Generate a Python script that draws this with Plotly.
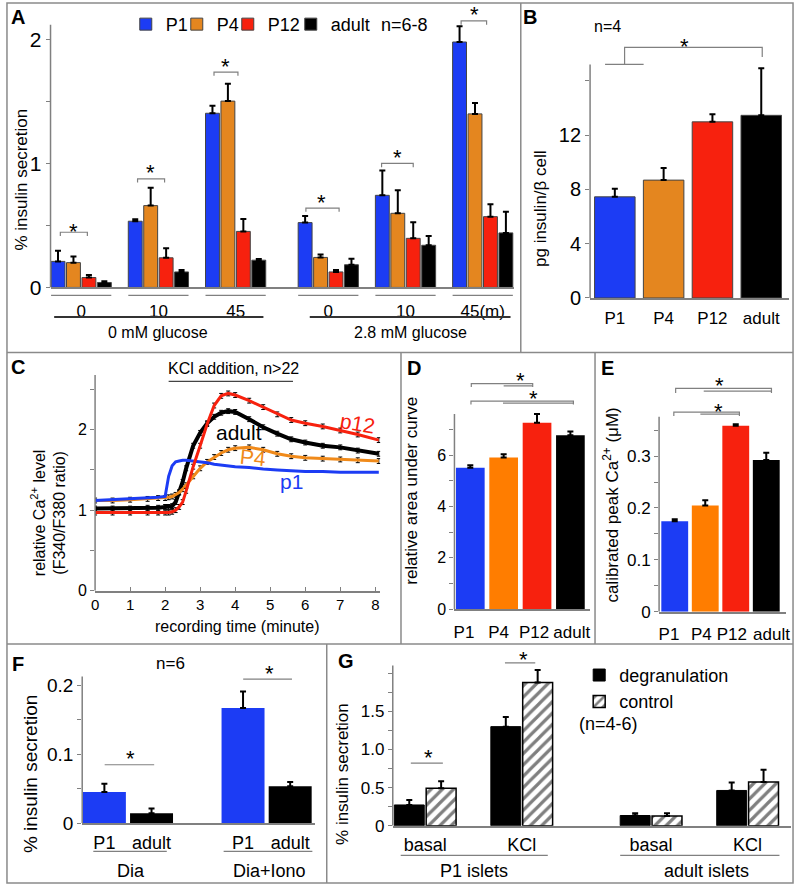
import plotly.graph_objects as go

W, H = 800, 896
FONT = "Liberation Sans, Arial, Helvetica, sans-serif"
AXC = "#808080"
BLUE = "#1c3cf4"
ORANGE_A = "#e4861f"
ORANGE_D = "#ff7d00"
RED = "#f7210e"
BLACK = "#000000"

# ---------------- data ----------------
stages = ["P1", "P4", "P12", "adult"]

# Panel A: % insulin secretion (mean, SEM)
a_conditions = ["0", "10", "45", "0", "10", "45(m)"]
a_glucose = ["0 mM glucose", "2.8 mM glucose"]
a_P1 = [0.21, 0.534, 1.405, 0.523, 0.743, 1.98]
a_P1_err = [0.085, 0.015, 0.06, 0.053, 0.20, 0.126]
a_P4 = [0.20, 0.66, 1.503, 0.242, 0.598, 1.40]
a_P4_err = [0.05, 0.145, 0.14, 0.023, 0.186, 0.088]
a_P12 = [0.08, 0.239, 0.452, 0.125, 0.396, 0.571]
a_P12_err = [0.02, 0.077, 0.10, 0.016, 0.13, 0.10]
a_adult = [0.04, 0.125, 0.22, 0.183, 0.34, 0.44]
a_adult_err = [0.01, 0.016, 0.01, 0.048, 0.074, 0.17]

# Panel B: pg insulin / beta cell
b_values = [7.45, 8.68, 12.97, 13.45]
b_err = [0.6, 0.9, 0.55, 3.47]

# Panel C: relative Ca2+ level over recording time (minute)
c_time = [0, 0.5, 1.0, 1.5, 1.8, 2.0, 2.1, 2.2, 2.3, 2.4, 2.5, 2.6, 2.8, 3.0,
          3.2, 3.4, 3.6, 3.8, 4.0, 4.4, 4.8, 5.2, 5.6, 6.0, 6.5, 7.0, 7.5, 8.1]
c_p1 = [1.12, 1.13, 1.14, 1.15, 1.16, 1.17, 1.42, 1.55, 1.60, 1.61, 1.62, 1.62, 1.61, 1.60,
        1.59, 1.57, 1.56, 1.55, 1.54, 1.53, 1.51, 1.50, 1.49, 1.48, 1.48, 1.47, 1.47, 1.47]
c_p4 = [1.12, 1.12, 1.13, 1.14, 1.15, 1.15, 1.16, 1.17, 1.19, 1.22, 1.26, 1.31, 1.42, 1.52,
        1.60, 1.66, 1.71, 1.75, 1.77, 1.78, 1.75, 1.70, 1.67, 1.65, 1.64, 1.63, 1.62, 1.61]
c_p12 = [0.97, 0.97, 0.97, 0.97, 0.97, 0.97, 0.97, 0.98, 1.00, 1.04, 1.10, 1.24, 1.54, 1.80,
         2.07, 2.30, 2.42, 2.45, 2.43, 2.36, 2.28, 2.19, 2.12, 2.08, 2.04, 1.99, 1.94, 1.87]
c_adult = [1.02, 1.02, 1.02, 1.03, 1.03, 1.04, 1.04, 1.05, 1.10, 1.22, 1.35, 1.52, 1.80, 1.96,
           2.08, 2.16, 2.21, 2.23, 2.22, 2.13, 2.03, 1.95, 1.88, 1.84, 1.80, 1.78, 1.74, 1.70]
c_sem = 0.03

# Panel D: relative area under curve
d_values = [5.51, 5.90, 7.26, 6.77]
d_err = [0.09, 0.13, 0.34, 0.15]

# Panel E: calibrated peak Ca2+ (uM)
e_values = [0.1745, 0.205, 0.3587, 0.2926]
e_err = [0.004, 0.010, 0.003, 0.014]

# Panel F: % insulin secretion
f_groups = ["Dia", "Dia+Iono"]
f_labels = ["P1", "adult"]
f_P1 = [0.0453, 0.167]
f_P1_err = [0.012, 0.024]
f_adult = [0.0143, 0.0535]
f_adult_err = [0.007, 0.006]

# Panel G: % insulin secretion
g_conditions = ["basal", "KCl", "basal", "KCl"]
g_islets = ["P1 islets", "adult islets"]
g_degran = [0.272, 1.298, 0.134, 0.462]
g_degran_err = [0.065, 0.125, 0.030, 0.103]
g_control = [0.49, 1.876, 0.129, 0.573]
g_control_err = [0.094, 0.164, 0.035, 0.16]

# ---------------- helpers ----------------
fig = go.Figure()
shapes = []
annos = []


def fx(px):
    return px / W


def fy(px):
    return 1 - px / H


def names(i):
    s = "" if i == 1 else str(i)
    return "x" + s, "y" + s, "xaxis" + s, "yaxis" + s


def errs(arr):
    return dict(type="data", symmetric=False, array=arr, arrayminus=[0] * len(arr),
                color="black", thickness=2, width=3)


def text(x, y, s, size=16, xref="paper", yref="paper", color="black", bold=False,
         angle=0, xanchor="center", yanchor="middle"):
    if bold:
        s = "<b>" + s + "</b>"
    annos.append(dict(x=x, y=y, xref=xref, yref=yref, text=s, showarrow=False,
                      font=dict(size=size, color=color, family=FONT), textangle=angle,
                      xanchor=xanchor, yanchor=yanchor))


def hline_paper(xa, x0, x1, ypx, color=AXC, width=1.2):
    shapes.append(dict(type="line", xref=xa, yref="paper", x0=x0, x1=x1, y0=fy(ypx), y1=fy(ypx),
                       line=dict(color=color, width=width)))


def bracket(xa, ya, x0, x1, y, drop=None):
    if drop is None:
        path = f"M{x0},{y} L{x1},{y}"
    else:
        path = f"M{x0},{drop} L{x0},{y} L{x1},{y} L{x1},{drop}"
    shapes.append(dict(type="path", xref=xa, yref=ya, path=path,
                       line=dict(color=AXC, width=1.2)))


def star(xa, ya, x, y):
    text(x, y, "*", size=22, xref=xa, yref=ya)


layout = dict()


def setup(i, xpx, zero_px, ppu, xr, yr, ymajor, ytext, yminor, ytick_size,
          axis_top, xtick_vals=None, xtick_text=None, xtick_size=16, xstandoff=0,
          xticks=""):
    xn, yn, xk, yk = names(i)
    top_px = zero_px - yr[1] * ppu
    layout[xk] = dict(domain=[fx(xpx[0]), fx(xpx[1])], range=list(xr), anchor=yn,
                      showgrid=False, zeroline=False, showline=True, linecolor=AXC,
                      linewidth=1.5, ticks=xticks, ticklen=4 if xticks else 0,
                      tickcolor=AXC, tickangle=0, ticklabeloverflow="allow",
                      tickfont=dict(size=xtick_size, family=FONT, color="black"),
                      ticklabelstandoff=xstandoff, fixedrange=True)
    if xtick_vals is not None:
        layout[xk].update(tickmode="array", tickvals=xtick_vals, ticktext=xtick_text)
    layout[yk] = dict(domain=[fy(zero_px), fy(top_px)], range=list(yr), anchor=xn,
                      showgrid=False, zeroline=False, showline=False,
                      ticks="outside", ticklen=4, tickcolor=AXC, tickwidth=1,
                      tickmode="array", tickvals=ymajor, ticktext=ytext,
                      tickfont=dict(size=ytick_size, family=FONT, color="black"),
                      fixedrange=True)
    if yminor:
        layout[yk]["minor"] = dict(tickmode="array", tickvals=yminor, ticks="outside",
                                   ticklen=4, tickcolor=AXC, tickwidth=1, showgrid=False)
    shapes.append(dict(type="line", xref=xn + " domain", yref=yn, x0=0, x1=0, y0=0,
                       y1=axis_top, line=dict(color=AXC, width=1.5)))
    return xn, yn


# ---------------- Panel A ----------------
a_pos = [i + (0.2 if i >= 3 else 0.0) for i in range(len(a_conditions))]
xa, ya = setup(1, (47, 515), 291, 125.5, (-0.397, 5.603), (0, 2.3),
               [0, 1, 2], ["0", "1", "2"], [0.5, 1.5], 21, 2.12,
               xtick_vals=a_pos, xtick_text=a_conditions, xtick_size=17, xstandoff=7)
a_series = [(a_P1, a_P1_err, BLUE), (a_P4, a_P4_err, ORANGE_A),
            (a_P12, a_P12_err, RED), (a_adult, a_adult_err, BLACK)]
a_legend_widths = [6, 6, 18, 42]
for k, (vals, er, col) in enumerate(a_series):
    fig.add_trace(go.Bar(x=a_pos, y=vals, name=stages[k], xaxis=xa, yaxis=ya,
                         offset=-0.39 + 0.2 * k, width=0.18,
                         marker=dict(color=col, line=dict(color="#444444", width=1)),
                         error_y=errs(er), legend="legend", showlegend=True,
                         legendwidth=a_legend_widths[k]))
for p in a_pos:
    hline_paper(xa, p - 0.39, p + 0.39, 299)
shapes.append(dict(type="line", xref=xa, yref="paper", x0=-0.35, x1=2.36, y0=fy(321), y1=fy(321),
                   line=dict(color="#333333", width=2)))
shapes.append(dict(type="line", xref=xa, yref="paper", x0=2.96, x1=5.56, y0=fy(321), y1=fy(321),
                   line=dict(color="#333333", width=2)))
text(1.0, fy(337), a_glucose[0], 16, xref=xa)
text(4.26, fy(337), a_glucose[1], 16, xref=xa)
a_brackets = [(-0.27, 0.08, 0.445, -0.10, 0.454), (-0.27, 0.08, 0.876, -0.10, 0.924),
              (-0.28, 0.03, 1.737, -0.13, 1.78), (-0.29, 0.14, 0.64, -0.09, 0.684),
              (-0.31, 0.10, 1.0, -0.10, 1.045), (-0.28, 0.05, 2.15, -0.11, 2.2)]
for p, (b0, b1, by, sx, sy) in zip(a_pos, a_brackets):
    bracket(xa, ya, p + b0, p + b1, by, by - 0.03)
    star(xa, ya, p + sx, sy)
text(fx(405), fy(25), "n=6-8", 18)
text(fx(18), fy(182), "% insulin secretion", 17, angle=-90)
text(fx(14), fy(17), "A", 20, bold=True)

# ---------------- Panel B ----------------
b_pos = list(range(len(stages)))
xb, yb = setup(2, (592, 793), 301.7, 13.75, (-0.507, 3.57), (0, 19),
               [0, 4, 8, 12], ["0", "4", "8", "12"], [16], 20, 17.2,
               xtick_vals=b_pos, xtick_text=stages, xtick_size=17, xstandoff=4)
fig.add_trace(go.Bar(x=b_pos, y=b_values, xaxis=xb, yaxis=yb, width=0.83, showlegend=False,
                     marker=dict(color=[BLUE, ORANGE_A, RED, BLACK],
                                 line=dict(color="#444444", width=1)),
                     error_y=errs(b_err)))
shapes.append(dict(type="path", xref=xb, yref=yb,
                   path="M0.2,17.2 L0.2,18.45 L3.02,18.45 L3.02,17.75",
                   line=dict(color=AXC, width=1.2)))
bracket(xb, yb, -0.2, 0.59, 17.2)
star(xb, yb, 1.42, 18.55)
text(fx(610), fy(27), "n=4", 16)
text(fx(542), fy(211), "pg insulin/β cell", 17, angle=-90)
text(fx(531), fy(17), "B", 20, bold=True)

# ---------------- Panel C ----------------
xc, yc = setup(3, (92, 380), 598, 81.5, (0, 8.14), (0, 2.68),
               [0, 1, 2], ["0", "1", "2"], [0.5, 1.5, 2.5], 16, 2.68,
               xtick_vals=list(range(9)), xtick_text=[str(i) for i in range(9)],
               xtick_size=15, xstandoff=0, xticks="inside")
c_series = [("adult", c_adult, BLACK, 4, True), ("P4", c_p4, "#f08a1a", 3, True),
            ("p1", c_p1, BLUE, 3, False), ("p12", c_p12, RED, 3, True)]
for nm, vals, col, lw, has_err in c_series:
    kw = {}
    if has_err:
        kw["error_y"] = dict(type="constant", value=c_sem, color="black", thickness=1, width=2)
    fig.add_trace(go.Scatter(x=c_time, y=vals, mode="lines", name=nm, xaxis=xc, yaxis=yc,
                             line=dict(color=col, width=lw), showlegend=False, **kw))
shapes.append(dict(type="line", xref=xc, yref=yc, x0=2.1, x1=5.65, y0=2.60, y1=2.60,
                   line=dict(color="#444444", width=1.2)))
text(3.95, fy(373), "KCl addition, n>22", 16, xref=xc)
text(7.5, 2.08, "p12", 21, xref=xc, yref=yc, color=RED, angle=10)
text(4.1, 1.97, "adult", 21, xref=xc, yref=yc, color="black")
text(4.51, 1.65, "P4", 21, xref=xc, yref=yc, color="#f08a1a", angle=6)
text(5.62, 1.35, "p1", 21, xref=xc, yref=yc, color=BLUE)
text(fx(236), fy(634), "recording time (minute)", 16)
text(fx(45), fy(519), "relative Ca<sup>2+</sup> level<br>(F340/F380 ratio)", 16, angle=-90)
text(fx(14), fy(372), "C", 20, bold=True)

# ---------------- Panel D ----------------
d_label_shift = [-0.19, -0.15, -0.09, 0.04]
xd, yd = setup(4, (455, 592), 616.7, 26, (-0.475, 3.59), (0, 9.0),
               [0, 2, 4, 6], ["0", "2", "4", "6"], [1, 3, 5, 7], 16, 7.6,
               xtick_vals=[p + s for p, s in zip(b_pos, d_label_shift)], xtick_text=stages,
               xtick_size=17, xstandoff=7)
fig.add_trace(go.Bar(x=b_pos, y=d_values, xaxis=xd, yaxis=yd, width=0.86, showlegend=False,
                     marker=dict(color=[BLUE, ORANGE_D, RED, BLACK], line=dict(width=0)),
                     error_y=errs(d_err)))
bracket(xd, yd, 0.03, 1.87, 8.78, 8.65)
bracket(xd, yd, 1.0, 1.87, 8.69)
bracket(xd, yd, 0.02, 3.09, 8.10, 7.97)
bracket(xd, yd, 0.98, 3.09, 8.02)
star(xd, yd, 1.5, 8.91)
star(xd, yd, 1.9, 8.22)
text(fx(412), fy(497), "relative area under curve", 17, angle=-90)
text(fx(414), fy(373), "D", 20, bold=True)

# ---------------- Panel E ----------------
e_label_shift = [-0.19, -0.13, -0.13, 0.17]
xe, ye = setup(5, (661.7, 790), 619.3, 525, (-0.513, 3.65), (0, 0.44),
               [0, 0.1, 0.2, 0.3], ["0", "0.1", "0.2", "0.3"], [0.05, 0.15, 0.25, 0.35],
               17, 0.376,
               xtick_vals=[p + s for p, s in zip(b_pos, e_label_shift)], xtick_text=stages,
               xtick_size=17, xstandoff=6)
fig.add_trace(go.Bar(x=b_pos, y=e_values, xaxis=xe, yaxis=ye, width=0.88, showlegend=False,
                     marker=dict(color=[BLUE, ORANGE_D, RED, BLACK], line=dict(width=0)),
                     error_y=errs(e_err)))
bracket(xe, ye, 0.03, 3.17, 0.4305, 0.4215)
bracket(xe, ye, 0.95, 3.17, 0.4253)
bracket(xe, ye, -0.03, 2.12, 0.3848, 0.3775)
bracket(xe, ye, 0.84, 2.12, 0.381)
star(xe, ye, 1.48, 0.4368)
star(xe, ye, 1.43, 0.386)
text(fx(613), fy(511), "calibrated peak Ca<sup>2+</sup> (μM)", 17, angle=-90)
text(fx(610), fy(373), "E", 20, bold=True)

# ---------------- Panel F ----------------
f_pos = list(range(len(f_groups)))
f_off = [-0.325, 0.015]
f_w = 0.31
f_tick_pos = [p + o + f_w / 2 for p in f_pos for o in f_off]
xf, yf = setup(6, (79, 314), 833.3, 697, (-0.33, 1.348), (0, 0.235),
               [0, 0.1, 0.2], ["0", "0.1", "0.2"], [0.05, 0.15], 19, 0.213,
               xtick_vals=f_tick_pos, xtick_text=f_labels * len(f_groups), xtick_size=18,
               xstandoff=3)
for k, (vals, er, col) in enumerate([(f_P1, f_P1_err, BLUE), (f_adult, f_adult_err, BLACK)]):
    fig.add_trace(go.Bar(x=f_pos, y=vals, xaxis=xf, yaxis=yf, offset=f_off[k], width=f_w,
                         marker=dict(color=col, line=dict(width=0)), showlegend=False,
                         error_y=errs(er)))
hline_paper(xf, -0.25, 0.28, 862)
hline_paper(xf, 0.69, 1.33, 862)
text(0.02, fy(882), f_groups[0], 18, xref=xf)
text(1.02, fy(882), f_groups[1], 18, xref=xf)
bracket(xf, yf, -0.168, 0.189, 0.0847)
bracket(xf, yf, 0.831, 1.183, 0.209)
star(xf, yf, 0.02, 0.094)
star(xf, yf, 1.02, 0.2166)
text(fx(168), fy(672), "n=6", 17)
text(fx(27), fy(784), "% insulin secretion", 19, angle=-90)
text(fx(14), fy(672), "F", 20, bold=True)

# ---------------- Panel G ----------------
g_pos = [i + (0.34 if i >= 2 else 0.0) for i in range(len(g_conditions))]
xg, yg = setup(7, (392.7, 795), 836, 77.3, (-0.336, 3.79), (0, 2.2),
               [0, 0.5, 1.0, 1.5], ["0", "0.5", "1.0", "1.5"], [0.25, 0.75, 1.25, 1.75, 2.0],
               17, 2.1,
               xtick_vals=g_pos, xtick_text=g_conditions, xtick_size=18, xstandoff=2)
fig.add_trace(go.Bar(x=g_pos, y=g_degran, name="degranulation", xaxis=xg, yaxis=yg,
                     offset=-0.32, width=0.31, legend="legend2",
                     marker=dict(color="black", line=dict(color="black", width=1)),
                     error_y=errs(g_degran_err)))
fig.add_trace(go.Bar(x=g_pos, y=g_control, name="control", xaxis=xg, yaxis=yg,
                     offset=0.01, width=0.31, legend="legend2",
                     marker=dict(color="white", line=dict(color="black", width=1.5),
                                 pattern=dict(shape="/", fgcolor="black", bgcolor="white",
                                              size=8, solidity=0.4)),
                     error_y=errs(g_control_err)))
hline_paper(xg, -0.254, 1.27, 866)
hline_paper(xg, 2.02, 3.67, 866)
text(0.508, fy(882), g_islets[0], 18, xref=xg)
text(2.91, fy(882), g_islets[1], 18, xref=xg)
bracket(xg, yg, -0.149, 0.183, 0.819)
bracket(xg, yg, 0.826, 1.14, 2.134)
star(xg, yg, 0.03, 0.896)
star(xg, yg, 1.02, 2.177)
text(fx(611), fy(733), "(n=4-6)", 18)
text(fx(342), fy(784), "% insulin secretion", 17, angle=-90)
text(fx(345), fy(669), "G", 20, bold=True)

# ---------------- panel borders ----------------
border = dict(color="#8a8a8a", width=1.5)
shapes.append(dict(type="rect", xref="paper", yref="paper", x0=fx(3), x1=fx(797),
                   y0=fy(894), y1=fy(3), line=border))
for (x0, y0, x1, y1) in [(3, 357, 797, 357), (3, 652, 797, 652), (522, 3, 522, 357),
                         (401, 357, 401, 652), (597, 357, 597, 652), (326, 652, 326, 894)]:
    shapes.append(dict(type="line", xref="paper", yref="paper", x0=fx(x0), x1=fx(x1),
                       y0=fy(y0), y1=fy(y1), line=border))

fig.update_layout(
    width=W, height=H, margin=dict(l=0, r=0, t=0, b=0),
    paper_bgcolor="white", plot_bgcolor="white",
    font=dict(family=FONT, color="black"),
    barmode="overlay",
    shapes=shapes, annotations=annos,
    legend=dict(orientation="h", x=fx(123), y=fy(6), xanchor="left", yanchor="top",
                font=dict(size=18, family=FONT), itemwidth=30, bgcolor="rgba(0,0,0,0)",
                traceorder="normal"),
    legend2=dict(orientation="v", x=fx(581), y=fy(665), xanchor="left", yanchor="top",
                 font=dict(size=18, family=FONT), itemwidth=30, bgcolor="rgba(0,0,0,0)"),
    **layout,
)

fig.write_html("out.html", config={"displayModeBar": False},
               post_script="document.body.style.margin='0';document.body.style.overflow='hidden';")
